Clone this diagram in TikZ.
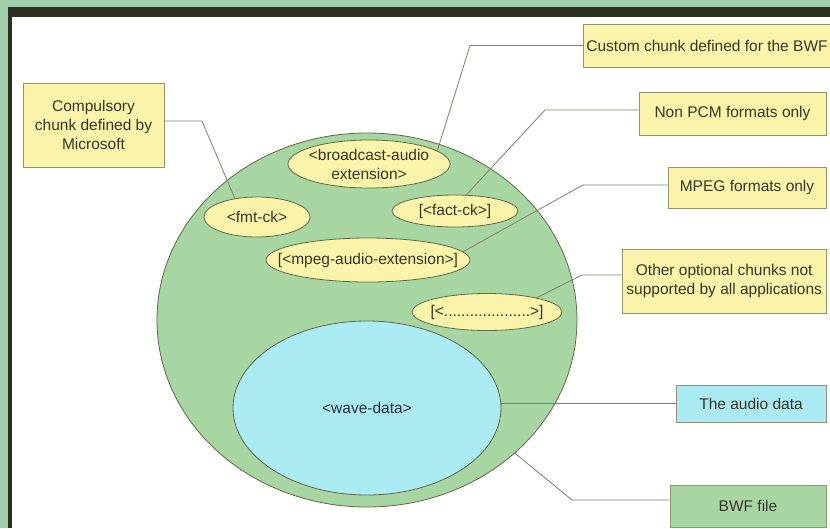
\documentclass[tikz,border=0pt]{standalone}
\usepackage{fontspec}
\setmainfont{Liberation Sans}
\usetikzlibrary{shapes.geometric}
\definecolor{gfill}{RGB}{168,214,163}
\definecolor{bfill}{RGB}{170,234,242}
\definecolor{yfill}{RGB}{250,244,170}
\definecolor{eline}{RGB}{95,105,70}
\definecolor{bline}{RGB}{150,145,110}
\definecolor{cline}{RGB}{125,128,112}
\definecolor{txt}{RGB}{55,55,40}
\definecolor{wtxt}{RGB}{40,50,70}
\definecolor{frameg}{RGB}{160,205,172}
\definecolor{framed}{RGB}{45,48,32}
\newcommand{\lblfont}{\fontsize{15.5}{19}\selectfont}
\tikzset{
  chunk/.style={ellipse, draw=eline, fill=yfill, line width=0.8pt, inner sep=0pt},
  lbl/.style={font=\lblfont, text=txt, align=center, inner sep=0pt},
  ybox/.style={rectangle, draw=bline, fill=yfill, line width=0.8pt, font=\lblfont, text=txt, align=center, inner sep=3pt},
  conn/.style={draw=cline, line width=0.8pt}
}
\begin{document}
\begin{tikzpicture}[x=1pt,y=-1pt]
\useasboundingbox (0,0) rectangle (830,528);
% frame
\fill[white] (0,0) rectangle (830,528);
\fill[frameg] (0,0) rectangle (830,8);
\fill[frameg] (0,0) rectangle (8,528);
\fill[framed] (8,7) rectangle (830,17);
\fill[framed] (8,7) rectangle (12,528);

% big BWF ellipse and wave data
\node[ellipse, draw=eline, fill=gfill, line width=0.8pt, minimum width=420pt, minimum height=374pt, inner sep=0pt] (file) at (367,320) {};
\node[ellipse, draw=eline, fill=bfill, line width=0.8pt, minimum width=268pt, minimum height=174pt, inner sep=0pt] (wave) at (367,408) {};
\node[lbl, text=wtxt] at (wave) {\textless wave-data\textgreater};

% chunks
\node[chunk, minimum width=162pt, minimum height=48pt] (bcast) at (369,164) {};
\node[lbl] at (bcast) {\textless broadcast-audio\\extension\textgreater};
\node[chunk, minimum width=106pt, minimum height=40pt] (fmt) at (257,217) {};
\node[lbl] at (fmt) {\textless fmt-ck\textgreater};
\node[chunk, minimum width=126pt, minimum height=32pt] (fact) at (455,211) {};
\node[lbl] at (fact) {[\textless fact-ck\textgreater]};
\node[chunk, minimum width=204pt, minimum height=44pt] (mpeg) at (368,260) {};
\node[lbl] at (mpeg) {[\textless mpeg-audio-extension\textgreater]};
\node[chunk, minimum width=150pt, minimum height=37pt] (other) at (487,312) {};
\node[lbl] at (other) {[\textless....................\textgreater]};

% label boxes
\node[ybox, minimum width=141pt, minimum height=84pt] (comp) at (93.5,125) {Compulsory\\chunk defined by\\Microsoft};
\node[ybox, anchor=west, minimum height=43pt] (custom) at (583,45.5) {Custom chunk defined for the BWF};
\node[ybox, minimum width=187pt, minimum height=43pt] (nonpcm) at (732.5,113.5) {Non PCM formats only};
\node[ybox, minimum width=158pt, minimum height=41pt] (mpegbox) at (747,187.5) {MPEG formats only};
\node[ybox, anchor=west, minimum height=64pt, inner xsep=4pt] (otherbox) at (622,281) {Other optional chunks not\\supported by all applications};
\node[ybox, fill=bfill, minimum width=150pt, minimum height=37pt] (audio) at (751,403.5) {The audio data};
\node[ybox, fill=gfill, minimum width=156pt, minimum height=42pt] (bwf) at (748,506) {BWF file};

% connector bends
\coordinate (c1) at (202,121);
\coordinate (c2) at (470,45.5);
\coordinate (c3) at (545,110);
\coordinate (c4) at (583,185);
\coordinate (c5) at (582,275);
\coordinate (c6) at (572,500);

\draw[conn] (comp.east |- c1) -- (c1) -- (fmt.140);
\draw[conn] (custom.west) -- (c2) -- (bcast.11);
\draw[conn] (nonpcm.west |- c3) -- (c3) -- (fact.55);
\draw[conn] (mpegbox.west |- c4) -- (c4) -- (mpeg.5);
\draw[conn] (otherbox.west |- c5) -- (c5) -- (other.16);
\draw[conn] (audio.west) -- (audio.west -| wave.east);
\draw[conn] (bwf.west |- c6) -- (c6) -- (file.-42);
\end{tikzpicture}
\end{document}
